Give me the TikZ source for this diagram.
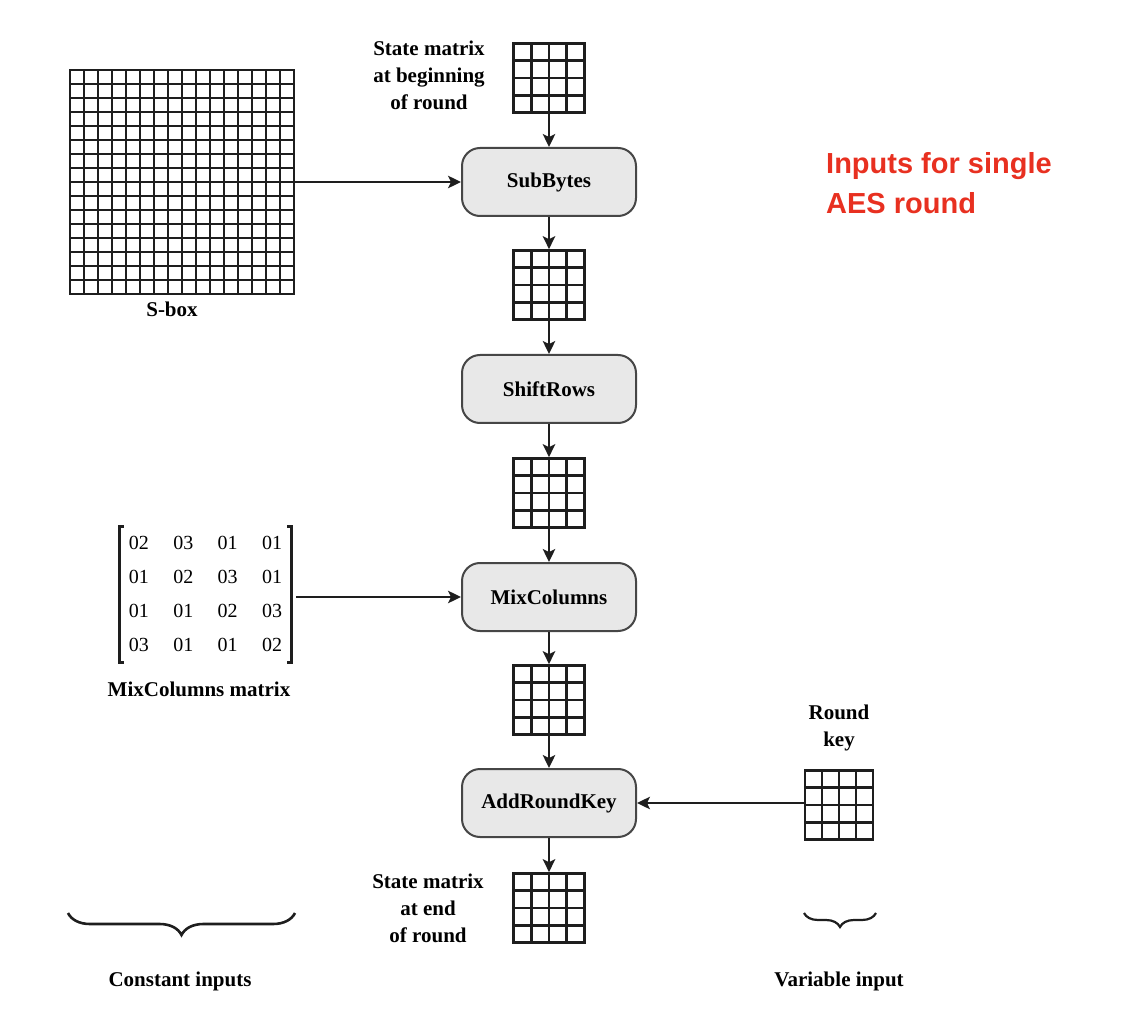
\documentclass[tikz,border=0pt]{standalone}
\usepackage{fontspec}
\setmainfont{Liberation Serif}
\setsansfont{Liberation Sans}
\usetikzlibrary{arrows.meta,decorations.pathreplacing,calc,matrix}
\definecolor{boxfill}{RGB}{232,232,232}
\definecolor{boxline}{RGB}{70,70,70}
\definecolor{redtxt}{RGB}{232,48,32}
\definecolor{ink}{RGB}{30,30,30}
\tikzset{
  state/.style={draw=ink, line width=2.7pt, inner sep=0pt, minimum width=71pt, minimum height=69pt,
    path picture={
      \foreach \i in {1,2,3}{
        \draw[ink, line width=2.7pt] ($(path picture bounding box.north west)!\i/4!(path picture bounding box.north east)$) -- ($(path picture bounding box.south west)!\i/4!(path picture bounding box.south east)$);
        \draw[ink, line width=2.7pt] ($(path picture bounding box.north west)!\i/4!(path picture bounding box.south west)$) -- ($(path picture bounding box.north east)!\i/4!(path picture bounding box.south east)$);
      }}},
  sboxgrid/.style={draw=ink, line width=2.7pt, inner sep=0pt, minimum width=224pt, minimum height=224pt,
    path picture={
      \foreach \i in {1,...,15}{
        \draw[ink, line width=2.7pt] ($(path picture bounding box.north west)!\i/16!(path picture bounding box.north east)$) -- ($(path picture bounding box.south west)!\i/16!(path picture bounding box.south east)$);
        \draw[ink, line width=2.7pt] ($(path picture bounding box.north west)!\i/16!(path picture bounding box.south west)$) -- ($(path picture bounding box.north east)!\i/16!(path picture bounding box.south east)$);
      }}},
  stepbox/.style={draw=boxline, fill=boxfill, line width=2pt, rounded corners=18pt,
    minimum width=174pt, minimum height=68pt, font=\bfseries\fontsize{21}{27}\selectfont},
  lbl/.style={font=\bfseries\fontsize{21}{27}\selectfont, align=center, inner sep=0pt},
  arr/.style={draw=ink, -{Stealth[length=13pt,width=12.5pt,inset=3pt]}, line width=2pt},
  bracebig/.style={draw=ink, decorate, decoration={brace, amplitude=#1}, line width=2.6pt},
  num/.style={font=\fontsize{20}{24}\selectfont, minimum width=44.5pt, minimum height=34pt, inner sep=0pt},
}
\begin{document}
\begin{tikzpicture}[x=1pt,y=-1pt]
\useasboundingbox (0,0) rectangle (1136,1032);

% state grids
\node[state] (g0) at (549,78) {};
\node[state] (g1) at (549,285) {};
\node[state] (g2) at (549,493) {};
\node[state] (g3) at (549,700) {};
\node[state] (g4) at (549,908) {};
\node[state, minimum width=68pt] (rk) at (839,805) {};

% steps
\node[stepbox] (sb) at (549,182) {SubBytes};
\node[stepbox] (sr) at (549,389) {ShiftRows};
\node[stepbox] (mc) at (549,597) {MixColumns};
\node[stepbox] (ark) at (549,803) {AddRoundKey};

% S-box
\node[sboxgrid] (sbox) at (182,182) {};
\node[lbl] (sboxl) at (172,309) {S-box};

% MixColumns matrix
\matrix (mcm) [matrix of nodes, nodes={num}, column sep=0pt, row sep=0pt] at (205.5,594) {
02 & 03 & 01 & 01\\
01 & 02 & 03 & 01\\
01 & 01 & 02 & 03\\
03 & 01 & 01 & 02\\
};
\draw[ink, line width=2.2pt] ($(mcm.north west)+(11,4)$) -- ($(mcm.north west)+(6.5,4)$) -- ($(mcm.south west)+(6.5,-3)$) -- ($(mcm.south west)+(11,-3)$);
\draw[ink, line width=2.2pt] ($(mcm.north east)+(-11,4)$) -- ($(mcm.north east)+(-6.5,4)$) -- ($(mcm.south east)+(-6.5,-3)$) -- ($(mcm.south east)+(-11,-3)$);
\node[lbl] (mcml) at (199,689) {MixColumns matrix};

% labels
\node[lbl] (l0) at (429,75) {State matrix\\at beginning\\of round};
\node[lbl] (l4) at (428,908) {State matrix\\at end\\of round};
\node[lbl] (rkl) at (839,728) {Round\\key};
\node[lbl] (cin) at (180,981) {Constant inputs};
\node[lbl] (vin) at (839,981) {Variable input};
\node[font=\sffamily\bfseries\fontsize{29}{40}\selectfont, text=redtxt, align=left, anchor=west, inner sep=0pt] (title) at (826,183) {Inputs for single\\AES round};

% braces
\coordinate (cb1) at (68,913);
\coordinate (cb2) at (295,913);
\coordinate (vb1) at (804,913);
\coordinate (vb2) at (876,913);
\draw[bracebig=22pt] (cb2) -- (cb1);
\draw[bracebig=14pt, line width=2.2pt] (vb2) -- (vb1);

% connectors
\draw[arr] (g0.south) -- (sb.north);
\draw[arr] (sb.south) -- (g1.north);
\draw[arr] (g1.south) -- (sr.north);
\draw[arr] (sr.south) -- (g2.north);
\draw[arr] (g2.south) -- (mc.north);
\draw[arr] (mc.south) -- (g3.north);
\draw[arr] (g3.south) -- (ark.north);
\draw[arr] (ark.south) -- (g4.north);
\draw[arr] (sbox.east) -- (sb.west);
\draw[arr] ($(mcm.east |- mc.west)+(-2,0)$) -- (mc.west);
\draw[arr] (rk.west |- ark.east) -- (ark.east);
\end{tikzpicture}
\end{document}
